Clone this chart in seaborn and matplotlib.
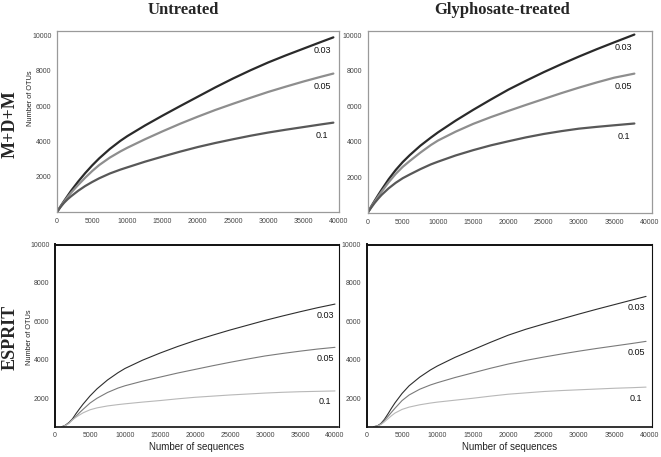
import numpy as np
import pandas as pd
import matplotlib.pyplot as plt
import seaborn as sns

sns.set_style("white")
plt.rcParams['font.family'] = ['Liberation Sans', 'DejaVu Sans']

cutoffs = ['0.03', '0.05', '0.1']

# M+D+M, untreated
mdm_unt_x = [0, 500, 1000, 1500, 2000, 3000, 4000, 5000, 6000, 7500, 9000, 10000,
             12500, 15000, 17500, 20000, 22500, 25000, 27500, 30000, 32500, 35000, 37500, 39250]
mdm_unt_003 = [0, 320, 620, 910, 1200, 1720, 2200, 2640, 3040, 3570, 4030, 4300,
               4900, 5460, 6000, 6530, 7060, 7560, 8030, 8470, 8870, 9250, 9630, 9890]
mdm_unt_005 = [0, 300, 580, 840, 1090, 1530, 1940, 2320, 2660, 3080, 3430, 3640,
               4120, 4570, 5000, 5400, 5780, 6130, 6470, 6800, 7100, 7390, 7660, 7840]
mdm_unt_01 = [0, 280, 520, 720, 890, 1200, 1470, 1700, 1910, 2180, 2400, 2530,
              2850, 3140, 3420, 3680, 3910, 4120, 4320, 4500, 4660, 4810, 4960, 5060]

# M+D+M, glyphosate-treated
mdm_gly_x = [0, 500, 1000, 1500, 2000, 3000, 4000, 5000, 6000, 7500, 9000, 10000,
             12500, 15000, 17500, 20000, 22500, 25000, 27500, 30000, 32500, 35000, 37870]
mdm_gly_003 = [0, 350, 680, 1000, 1310, 1900, 2420, 2870, 3260, 3790, 4250, 4540,
               5200, 5810, 6390, 6950, 7450, 7930, 8380, 8810, 9220, 9610, 10050]
mdm_gly_005 = [0, 320, 630, 920, 1200, 1730, 2200, 2600, 2930, 3400, 3830, 4080,
               4580, 5020, 5400, 5750, 6090, 6420, 6750, 7060, 7350, 7620, 7850]
mdm_gly_01 = [0, 290, 560, 800, 1020, 1390, 1700, 1960, 2170, 2470, 2740, 2890,
              3240, 3540, 3810, 4040, 4260, 4450, 4610, 4750, 4850, 4940, 5040]

# ESPRIT, untreated
esp_unt_x = [1000, 1500, 2000, 2500, 3000, 3500, 4000, 5000, 6000, 7500, 9000, 10000,
             12500, 15000, 17500, 20000, 22500, 25000, 27500, 30000, 32500, 35000, 37500, 40000]
esp_unt_003 = [520, 600, 740, 930, 1200, 1450, 1690, 2120, 2490, 2950, 3330, 3550,
               3980, 4350, 4690, 5000, 5280, 5550, 5800, 6050, 6280, 6500, 6710, 6900]
esp_unt_005 = [520, 590, 720, 880, 1060, 1250, 1420, 1750, 2000, 2300, 2530, 2650,
               2890, 3100, 3310, 3500, 3690, 3870, 4040, 4200, 4330, 4450, 4560, 4650]
esp_unt_01 = [520, 580, 690, 880, 1010, 1130, 1240, 1400, 1500, 1600, 1670, 1710,
              1800, 1880, 1970, 2050, 2110, 2170, 2220, 2270, 2310, 2340, 2360, 2380]

# ESPRIT, glyphosate-treated
esp_gly_x = [1000, 1500, 2000, 2500, 3000, 3500, 4000, 5000, 6000, 7500, 9000, 10000,
             12500, 15000, 17500, 20000, 22500, 25000, 27500, 30000, 32500, 35000, 37500, 39500]
esp_gly_003 = [520, 560, 680, 900, 1180, 1480, 1760, 2250, 2650, 3100, 3470, 3680,
               4130, 4520, 4910, 5280, 5590, 5860, 6120, 6380, 6630, 6870, 7110, 7300]
esp_gly_005 = [520, 560, 660, 840, 1050, 1270, 1480, 1880, 2170, 2470, 2690, 2810,
               3080, 3320, 3560, 3780, 3970, 4140, 4300, 4450, 4590, 4720, 4850, 4960]
esp_gly_01 = [520, 550, 630, 770, 930, 1090, 1230, 1420, 1540, 1660, 1750, 1800,
              1900, 2000, 2110, 2210, 2280, 2350, 2400, 2440, 2480, 2520, 2550, 2580]


def make_df(x, ys):
    parts = []
    for c, y in zip(cutoffs, ys):
        parts.append(pd.DataFrame({'seqs': x, 'otus': y, 'cutoff': c}))
    return pd.concat(parts, ignore_index=True)


W, H = 661, 457
fig = plt.figure(figsize=(W / 100, H / 100), dpi=100)


def add_ax(left, top, right, bottom):
    return fig.add_axes([left / W, 1 - bottom / H, (right - left) / W, (bottom - top) / H])


top_pal = {'0.03': '#2a2a2a', '0.05': '#8e8e8e', '0.1': '#585858'}
bot_pal = {'0.03': '#2e2e2e', '0.05': '#7a7a7a', '0.1': '#b8b8b8'}

panels = [
    (add_ax(57, 31, 339, 212), make_df(mdm_unt_x, [mdm_unt_003, mdm_unt_005, mdm_unt_01]), 'top', (0, 40050)),
    (add_ax(367.5, 31, 651.5, 213), make_df(mdm_gly_x, [mdm_gly_003, mdm_gly_005, mdm_gly_01]), 'top', (0, 40300)),
    (add_ax(55, 244.5, 338.5, 426.7), make_df(esp_unt_x, [esp_unt_003, esp_unt_005, esp_unt_01]), 'bot', (0, 40500)),
    (add_ax(366.7, 244.5, 651.7, 426.7), make_df(esp_gly_x, [esp_gly_003, esp_gly_005, esp_gly_01]), 'bot', (0, 40300)),
]

for i, (ax, df, kind, xl) in enumerate(panels):
    if kind == 'top':
        sns.lineplot(data=df, x='seqs', y='otus', hue='cutoff', palette=top_pal,
                     linewidth=1.6, legend=False, ax=ax)
        ax.set_ylim(0, 10250)
        for s in ax.spines.values():
            s.set_color('#9a9a9a')
            s.set_linewidth(0.9)
        lab_off = (-11, -13)
    else:
        sns.lineplot(data=df, x='seqs', y='otus', hue='cutoff', palette=bot_pal,
                     linewidth=0.8, legend=False, ax=ax)
        ax.set_ylim(520, 10000)
        ax.spines['top'].set_linewidth(1.4)
        ax.spines['left'].set_linewidth(1.4)
        ax.spines['right'].set_linewidth(0.8)
        ax.spines['bottom'].set_linewidth(1.2)
        for s in ax.spines.values():
            s.set_color('#111111')
        lab_off = (-10, -11)
    ax.set_xlim(*xl)
    ax.set_xticks(np.arange(0, 40001, 5000))
    ax.set_yticks(np.arange(2000, 10001, 2000))
    ax.tick_params(axis='both', labelsize=5, colors='#444444', length=2, width=0.5, pad=2)
    ax.set_xlabel('')
    ax.set_ylabel('')

    # cutoff labels next to curve ends
    for c in cutoffs:
        sub = df[df['cutoff'] == c]
        ax.annotate(c, xy=(sub['seqs'].iloc[-1], sub['otus'].iloc[-1]),
                    xytext=lab_off, textcoords='offset pixels',
                    ha='center', va='center', fontsize=6.5, color='#111111')

    if i in (0, 2):
        ax.set_ylabel('Number of OTUs', fontsize=5.3, color='#222222')
    if i >= 2:
        ax.set_xlabel('Number of sequences', fontsize=7, color='#222222')
        ax.xaxis.set_label_coords(0.5, -0.085)

panels[0][0].yaxis.set_label_coords(-0.08, 0.63)
panels[2][0].yaxis.set_label_coords(-0.076, 0.49)

serif = ['Liberation Serif', 'DejaVu Serif']
fig.text(183 / W, 1 - 10 / H, 'Untreated', ha='center', va='center',
         fontsize=12, fontweight='bold', family=serif)
fig.text(502 / W, 1 - 10 / H, 'Glyphosate-treated', ha='center', va='center',
         fontsize=12, fontweight='bold', family=serif)
fig.text(10 / W, 1 - 124 / H, 'M+D+M', ha='center', va='center', rotation=90,
         fontsize=13, fontweight='bold', family=serif)
fig.text(10 / W, 1 - 337 / H, 'ESPRIT', ha='center', va='center', rotation=90,
         fontsize=13, fontweight='bold', family=serif)

fig.savefig('out.png', dpi=100)
